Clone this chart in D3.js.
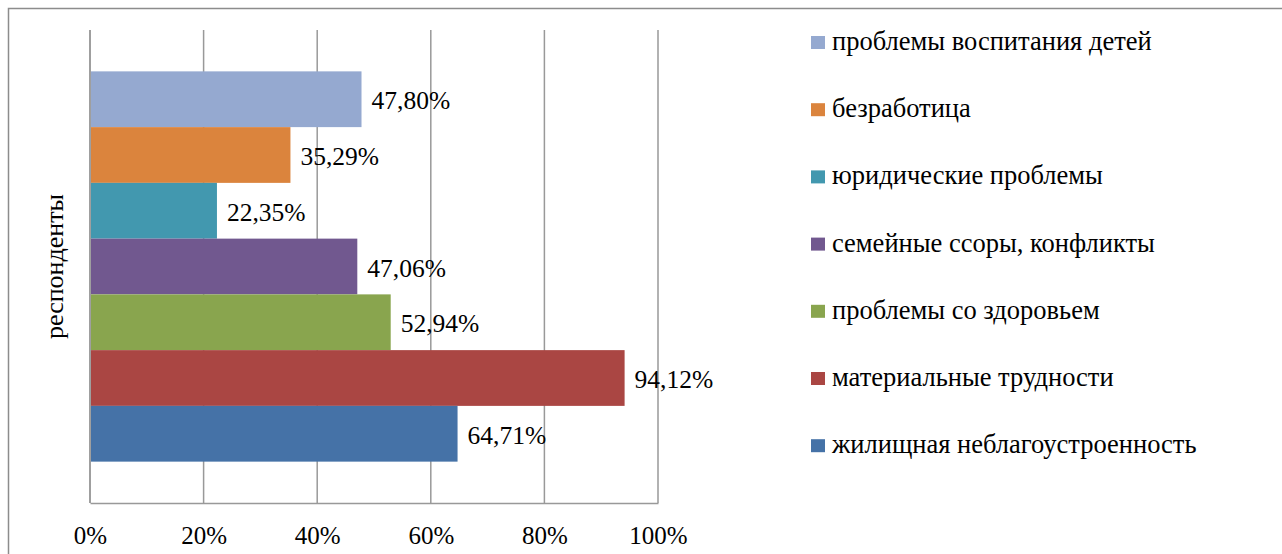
<!DOCTYPE html>
<html>
<head>
<meta charset="utf-8">
<script src="https://cdn.jsdelivr.net/npm/d3@7"></script>
<style>
  body { margin: 0; background: #fff; }
</style>
</head>
<body>
<div id="chart"></div>
<script>
// data
const category = ["респонденты"];
const seriesNames = [
    "проблемы воспитания детей",
    "безработица",
    "юридические проблемы",
    "семейные ссоры, конфликты",
    "проблемы со здоровьем",
    "материальные трудности",
    "жилищная неблагоустроенность"
];
const seriesValues = [47.80, 35.29, 22.35, 47.06, 52.94, 94.12, 64.71];
const seriesColors = ["#95a9d0", "#db843d", "#4298af", "#71588f", "#89a54e", "#aa4643", "#4572a7"];
const xTicks = [0, 20, 40, 60, 80, 100];

const FONT = "'Liberation Serif'";
const width = 1282, height = 554;
const plot = {left: 90, right: 658, top: 30, bottom: 503};

const svg = d3.select("#chart").append("svg").attr("width", width).attr("height", height);

// outer frame (runs off the right and bottom edge)
svg.append("rect").attr("x", 8.5).attr("y", 8.5).attr("width", 1300).attr("height", 600)
    .attr("fill", "none").attr("stroke", "#8c8c8c").attr("stroke-width", 1.5);

//scales
const xScale = d3.scaleLinear().domain([0, 100]).range([plot.left, plot.right]);
const catScale = d3.scaleBand().domain(category).range([plot.top, plot.bottom]).paddingOuter(0.106).paddingInner(0);
const yScale = d3.scaleBand().domain(seriesNames).range([catScale(category[0]), catScale(category[0]) + catScale.bandwidth()]);

//gridlines
svg.append("g").selectAll("line").data(xTicks).enter().append("line")
    .attr("x1", d => xScale(d)).attr("x2", d => xScale(d))
    .attr("y1", plot.top).attr("y2", plot.bottom)
    .attr("stroke", "#999").attr("stroke-width", 1.5);

//axes
const xAxis = svg.append("g").attr("transform", `translate(0, ${plot.bottom})`)
    .call(d3.axisBottom(xScale).tickValues(xTicks).tickSize(0).tickPadding(23).tickFormat(d => d + "%"));
xAxis.select(".domain").attr("stroke", "#999").attr("stroke-width", 1.5);
xAxis.selectAll("text").style("font-family", FONT).style("font-size", "25px").attr("fill", "#000");

svg.append("line").attr("x1", plot.left).attr("x2", plot.left).attr("y1", plot.top).attr("y2", plot.bottom)
    .attr("stroke", "#999").attr("stroke-width", 1.5);

//bars
svg.append("g").selectAll("rect").data(seriesNames).enter().append("rect")
    .attr("x", xScale(0) + 1)
    .attr("y", d => yScale(d))
    .attr("width", (d, i) => xScale(seriesValues[i]) - xScale(0) - 1)
    .attr("height", yScale.bandwidth())
    .attr("fill", (d, i) => seriesColors[i]);

//labels
svg.append("g").selectAll("text").data(seriesNames).enter().append("text")
    .attr("x", (d, i) => xScale(seriesValues[i]) + 10)
    .attr("y", d => yScale(d) + yScale.bandwidth() / 2 + 10)
    .style("font-family", FONT).style("font-size", "25.5px")
    .text((d, i) => seriesValues[i].toFixed(2).replace(".", ",") + "%");

//axis title
svg.append("text")
    .attr("transform", `translate(63, ${(plot.top + plot.bottom) / 2}) rotate(-90)`)
    .attr("text-anchor", "middle")
    .style("font-family", FONT).style("font-size", "26px")
    .text(category[0]);

//legend
const legend = svg.append("g").selectAll("g").data(seriesNames).enter().append("g")
    .attr("transform", (d, i) => `translate(811, ${50 + i * 67.2})`);
legend.append("rect").attr("x", 0).attr("y", -14).attr("width", 14).attr("height", 13)
    .attr("fill", (d, i) => seriesColors[i]);
legend.append("text").attr("x", 21).attr("y", 0)
    .style("font-family", FONT).style("font-size", "26.5px")
    .text(d => d);
</script>
</body>
</html>
